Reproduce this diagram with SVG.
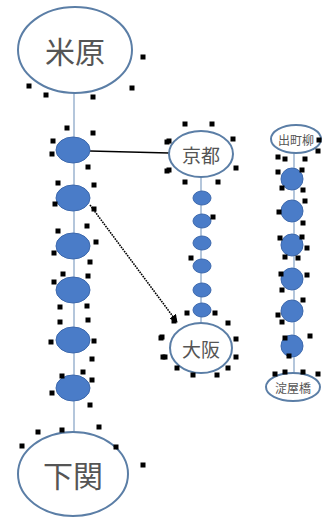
<svg xmlns="http://www.w3.org/2000/svg" width="326" height="520" viewBox="0 0 326 520">
<style>
.st{fill:#fff;stroke:#5b7ea6;stroke-width:2}
.dot{fill:#4a7cc8;stroke:#3d69ad;stroke-width:1}
.ln{stroke:#9bb3cf;stroke-width:1.5;fill:none}
.t{font-family:"Noto Sans CJK JP","Noto Sans CJK SC",sans-serif;fill:#555;text-anchor:middle;dominant-baseline:central}
.h{fill:#000}
</style>
<defs>
<rect id="h" x="-2.5" y="-2.5" width="5" height="5" class="h"/>
<marker id="ar" viewBox="0 0 10 10" refX="9" refY="5" markerWidth="5" markerHeight="5" orient="auto"><path d="M0,0L10,5L0,10z" fill="#000"/></marker>
</defs>
<rect width="326" height="520" fill="#fff"/>
<g id="connectors">
<line class="ln" x1="74" y1="92" x2="74" y2="432"/>
<line class="ln" x1="201" y1="177" x2="201" y2="323"/>
<line class="ln" x1="294" y1="153" x2="294" y2="373"/>
<line x1="90" y1="151" x2="169" y2="153" stroke="#000" stroke-width="1.5"/>
<line x1="90" y1="205" x2="177" y2="322" stroke="#000" stroke-width="1.6" stroke-dasharray="1.6,1" marker-end="url(#ar)"/>
</g>
<g id="maibara"><ellipse class="st" cx="75" cy="50" rx="57" ry="43"/><text class="t" x="75" y="50" font-size="30">米原</text></g>
<g id="shimonoseki"><ellipse class="st" cx="73" cy="474" rx="55" ry="42"/><text class="t" x="73" y="474" font-size="30">下関</text></g>
<g id="kyoto"><ellipse class="st" cx="201" cy="154" rx="32" ry="23"/><text class="t" x="201" y="154" font-size="19">京都</text></g>
<g id="osaka"><ellipse class="st" cx="201" cy="348" rx="31" ry="25"/><text class="t" x="201" y="348" font-size="19">大阪</text></g>
<g id="demachiyanagi"><ellipse class="st" cx="296" cy="139" rx="25" ry="14" stroke-width="1.5"/><text class="t" x="296" y="139" font-size="12">出町柳</text></g>
<g id="yodoyabashi"><ellipse class="st" cx="293" cy="387" rx="27" ry="14" stroke-width="1.5"/><text class="t" x="293" y="387" font-size="12">淀屋橋</text></g>
<g id="main-stops">
<ellipse class="dot" cx="73" cy="150" rx="17" ry="13"/>
<ellipse class="dot" cx="73" cy="198" rx="17" ry="13"/>
<ellipse class="dot" cx="73" cy="246" rx="17" ry="13"/>
<ellipse class="dot" cx="73" cy="290" rx="17" ry="13"/>
<ellipse class="dot" cx="73" cy="340" rx="17" ry="13"/>
<ellipse class="dot" cx="73" cy="388" rx="17" ry="13"/>
</g>
<g id="mid-stops">
<ellipse class="dot" cx="202" cy="198" rx="9" ry="7"/>
<ellipse class="dot" cx="202" cy="221" rx="9" ry="7"/>
<ellipse class="dot" cx="202" cy="243" rx="9" ry="7"/>
<ellipse class="dot" cx="202" cy="266" rx="9" ry="7"/>
<ellipse class="dot" cx="202" cy="290" rx="9" ry="7"/>
<ellipse class="dot" cx="202" cy="310" rx="9" ry="7"/>
</g>
<g id="right-stops">
<ellipse class="dot" cx="292" cy="179" rx="11" ry="11"/>
<ellipse class="dot" cx="292" cy="211" rx="11" ry="11"/>
<ellipse class="dot" cx="292" cy="245" rx="11" ry="11"/>
<ellipse class="dot" cx="292" cy="279" rx="11" ry="11"/>
<ellipse class="dot" cx="292" cy="311" rx="11" ry="11"/>
<ellipse class="dot" cx="292" cy="346" rx="11" ry="11"/>
</g>
<g id="handles">
<use href="#h" x="143" y="57"/><use href="#h" x="29" y="86"/><use href="#h" x="46" y="95"/><use href="#h" x="93" y="97"/><use href="#h" x="132" y="88"/><use href="#h" x="67" y="128"/>
<use href="#h" x="93" y="133"/><use href="#h" x="53" y="141"/><use href="#h" x="52" y="154"/><use href="#h" x="88" y="167"/><use href="#h" x="58" y="183"/><use href="#h" x="94" y="185"/><use href="#h" x="55" y="204"/><use href="#h" x="94" y="209"/><use href="#h" x="58" y="231"/><use href="#h" x="87" y="226"/><use href="#h" x="96" y="242"/><use href="#h" x="54" y="253"/><use href="#h" x="90" y="262"/><use href="#h" x="63" y="274"/><use href="#h" x="88" y="276"/><use href="#h" x="54" y="282"/>
<use href="#h" x="167" y="142"/><use href="#h" x="167" y="171"/>
<use href="#h" x="60" y="307"/><use href="#h" x="87" y="306"/><use href="#h" x="60" y="322"/><use href="#h" x="88" y="320"/><use href="#h" x="51" y="342"/><use href="#h" x="94" y="341"/><use href="#h" x="92" y="359"/><use href="#h" x="62" y="376"/><use href="#h" x="83" y="372"/><use href="#h" x="92" y="380"/><use href="#h" x="52" y="393"/><use href="#h" x="90" y="405"/><use href="#h" x="38" y="432"/><use href="#h" x="62" y="430"/><use href="#h" x="99" y="427"/><use href="#h" x="22" y="446"/><use href="#h" x="116" y="447"/><use href="#h" x="143" y="465"/>
<use href="#h" x="161" y="338"/><use href="#h" x="163" y="357"/>
<use href="#h" x="185" y="124"/><use href="#h" x="212" y="124"/><use href="#h" x="169" y="141"/><use href="#h" x="233" y="139"/><use href="#h" x="169" y="170"/><use href="#h" x="236" y="168"/><use href="#h" x="185" y="182"/><use href="#h" x="218" y="182"/><use href="#h" x="213" y="217"/><use href="#h" x="191" y="258"/>
<use href="#h" x="174" y="321"/><use href="#h" x="187" y="313"/><use href="#h" x="215" y="313"/><use href="#h" x="228" y="323"/><use href="#h" x="162" y="337"/><use href="#h" x="236" y="339"/><use href="#h" x="165" y="357"/><use href="#h" x="236" y="357"/><use href="#h" x="177" y="368"/><use href="#h" x="228" y="368"/><use href="#h" x="193" y="375"/><use href="#h" x="217" y="375"/>
<use href="#h" x="319" y="140"/><use href="#h" x="318" y="151"/><use href="#h" x="278" y="157"/><use href="#h" x="285" y="159"/><use href="#h" x="305" y="159"/><use href="#h" x="278" y="172"/><use href="#h" x="302" y="170"/><use href="#h" x="282" y="188"/><use href="#h" x="303" y="190"/><use href="#h" x="305" y="201"/><use href="#h" x="279" y="212"/><use href="#h" x="303" y="223"/><use href="#h" x="280" y="238"/><use href="#h" x="302" y="237"/><use href="#h" x="307" y="248"/><use href="#h" x="285" y="257"/><use href="#h" x="298" y="258"/>
<use href="#h" x="281" y="274"/><use href="#h" x="307" y="275"/><use href="#h" x="282" y="290"/><use href="#h" x="303" y="300"/><use href="#h" x="278" y="315"/><use href="#h" x="282" y="322"/><use href="#h" x="310" y="336"/><use href="#h" x="285" y="338"/><use href="#h" x="289" y="356"/><use href="#h" x="275" y="374"/><use href="#h" x="285" y="372"/><use href="#h" x="303" y="372"/><use href="#h" x="318" y="374"/>
</g>
</svg>
